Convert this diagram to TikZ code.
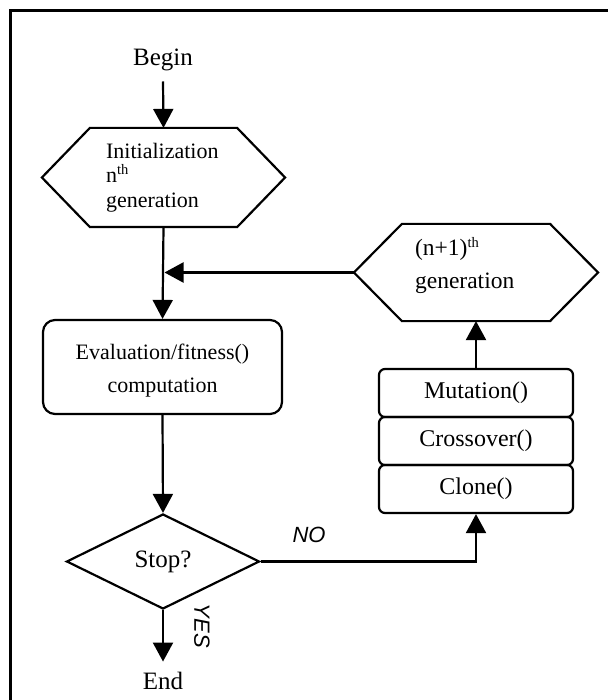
\documentclass[tikz,border=0pt]{standalone}
\usepackage{fontspec}
\setmainfont{Liberation Serif}
\newfontfamily\labelsans{Liberation Sans}
\usetikzlibrary{arrows.meta,shapes.geometric}

% small raised text used for ordinal suffixes
\newcommand\ordsup[1]{\raisebox{8pt}{\fontsize{14.5}{14.5}\selectfont #1}}

\begin{document}
\begin{tikzpicture}[x=1pt,y=-1pt,
  line width=2.2pt,
  flow/.style={-{Triangle[length=19pt,width=20pt]}},
  body/.style={font=\fontsize{22}{25}\selectfont, inner sep=0pt},
  bodylarge/.style={font=\fontsize{23.5}{26}\selectfont, inner sep=0pt},
  term/.style={font=\fontsize{25}{28}\selectfont, inner sep=0pt},
  hexarea/.style={draw=none, inner sep=0pt, minimum width=#1},
  roundbox/.style={draw, rounded corners=12pt, inner sep=0pt},
  opbox/.style={draw, rounded corners=6pt, inner sep=0pt,
    minimum width=194pt, minimum height=48pt,
    font=\fontsize{24}{26}\selectfont},
  decision/.style={draw, diamond, inner sep=0pt,
    minimum width=193pt, minimum height=95pt,
    font=\fontsize{25}{27}\selectfont},
  answer/.style={font=\labelsans\itshape\fontsize{22}{25}\selectfont, inner sep=0pt}
]
\useasboundingbox (0,0) rectangle (608,700);

% outer frame
\draw[line width=3pt] (10.5,700) -- (10.5,10.5) -- (608,10.5);

% start / end labels
\node[term, anchor=base] (begin) at (163,66) {Begin};
\node[term, anchor=base] (end) at (163,689) {End};

% hexagon: initialization
\node[hexarea=241pt, minimum height=97pt] (init) at (163.5,177.5) {};
\draw (init.west) -- ([xshift=48pt]init.north west) -- ([xshift=-48pt]init.north east)
  -- (init.east) -- ([xshift=-48pt]init.south east) -- ([xshift=48pt]init.south west) -- cycle;
\node[body, anchor=base west] (initA) at (105,159) {Initialization};
\node[body, anchor=base west] (initB) at (105,183) {n\ordsup{th}};
\node[body, anchor=base west] (initC) at (105,208) {generation};

% hexagon: next generation
\node[hexarea=242pt, minimum height=95pt] (gen) at (476,272.5) {};
\draw (gen.west) -- ([xshift=48pt]gen.north west) -- ([xshift=-48pt]gen.north east)
  -- (gen.east) -- ([xshift=-48pt]gen.south east) -- ([xshift=48pt]gen.south west) -- cycle;
\node[bodylarge, anchor=base west] (genA) at (414,255) {(n+1)\ordsup{th}};
\node[bodylarge, anchor=base west] (genB) at (414,288) {generation};

% evaluation box
\node[roundbox, minimum width=239pt, minimum height=94pt] (eval) at (162.5,367) {};
\node[body, anchor=base] (evalA) at (162.5,359) {Evaluation/fitness()};
\node[body, anchor=base] (evalB) at (162.5,392) {computation};

% genetic operators
\node[opbox] (mut) at (476,393) {Mutation()};
\node[opbox] (cross) at (476,441) {Crossover()};
\node[opbox] (clone) at (476,489) {Clone()};

% stop test
\node[decision] (stop) at (163,561.5) {Stop?};

% connectors
\draw[flow] ([yshift=-9pt]begin.south) -- (init.north);
\draw[flow] (init.south) -- (eval.north);
\draw[flow] (gen.west) -- ([xshift=1pt]gen.west -| init.south);
\draw[flow] (eval.south) -- (stop.north);
\draw[flow] (stop.south) -- ([yshift=9pt]end.north);
\draw[flow] (stop.east) -| (clone.south);
\draw[flow] (mut.north) -- (gen.south);

% branch labels
\node[answer] (no) at (309,535) {NO};
\node[answer, rotate=-90] (yes) at (202,626) {YES};
\end{tikzpicture}
\end{document}
